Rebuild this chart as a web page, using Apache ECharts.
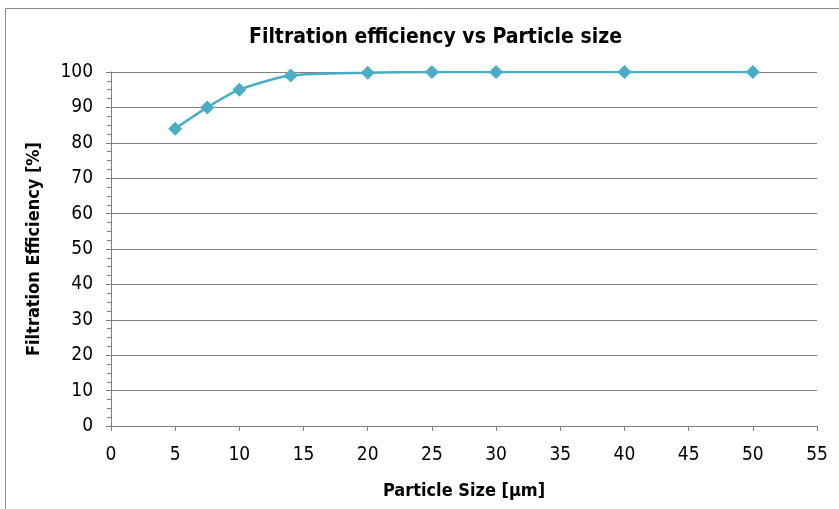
<!DOCTYPE html>
<html>
<head>
<meta charset="utf-8">
<script src="https://cdn.jsdelivr.net/npm/echarts@6/dist/echarts.min.js"></script>
<style>
  html, body { margin: 0; padding: 0; background: #fff; }
  #chart { width: 839px; height: 509px; }
</style>
</head>
<body>
<div id="chart"></div>
<script>
// particle size [um] and efficiency [%]
const particleSize = [5, 7.5, 10, 14, 20, 25, 30, 40, 50];
const efficiency = [84, 90, 95, 99, 99.8, 100, 100, 100, 100];

const font = '"Liberation Sans Narrow", "DejaVu Sans Condensed", sans-serif';
const lineColor = '#4BACC6';
const axisGray = '#7f7f7f';

const chart = echarts.init(document.getElementById('chart'));

chart.setOption({
  animation: false,
  title: {
    text: 'Filtration efficiency vs Particle size',
    left: 244,
    top: 22,
    textStyle: { fontFamily: font, fontSize: 21, fontWeight: 'bold', color: '#000' }
  },
  graphic: [{
    type: 'rect',
    shape: { x: 5.5, y: 8.5, width: 840, height: 510 },
    style: { fill: 'none', stroke: '#8c8c8c', lineWidth: 1 },
    silent: true
  }],
  grid: { left: 111, right: 22, top: 72, bottom: 83 },
  xAxis: {
    type: 'value',
    min: 0, max: 55, interval: 5,
    name: 'Particle Size [μm]',
    nameLocation: 'middle',
    nameGap: 56,
    nameTextStyle: { fontFamily: font, fontSize: 18, fontWeight: 'bold', color: '#000' },
    axisLine: { show: true, onZero: false, lineStyle: { color: axisGray } },
    axisTick: { show: true, length: 5, lineStyle: { color: axisGray } },
    axisLabel: { fontFamily: font, fontSize: 19, color: '#000', margin: 20 },
    splitLine: { show: false }
  },
  yAxis: {
    type: 'value',
    min: 0, max: 100, interval: 10,
    name: 'Filtration Efficiency [%]',
    nameLocation: 'middle',
    nameGap: 68,
    nameTextStyle: { fontFamily: font, fontSize: 18, fontWeight: 'bold', color: '#000' },
    axisLine: { show: true, lineStyle: { color: axisGray } },
    axisTick: { show: true, length: 5, lineStyle: { color: axisGray } },
    minorTick: { show: true, splitNumber: 4, length: 4, lineStyle: { color: axisGray } },
    axisLabel: { fontFamily: font, fontSize: 19, color: '#000', margin: 18 },
    splitLine: { show: true, lineStyle: { color: axisGray, width: 1 } }
  },
  series: [{
    type: 'line',
    data: particleSize.map((x, i) => [x, efficiency[i]]),
    smooth: 0.25,
    symbol: 'diamond',
    symbolSize: 14,
    lineStyle: { color: lineColor, width: 2.5 },
    itemStyle: { color: lineColor }
  }]
});
</script>
</body>
</html>
